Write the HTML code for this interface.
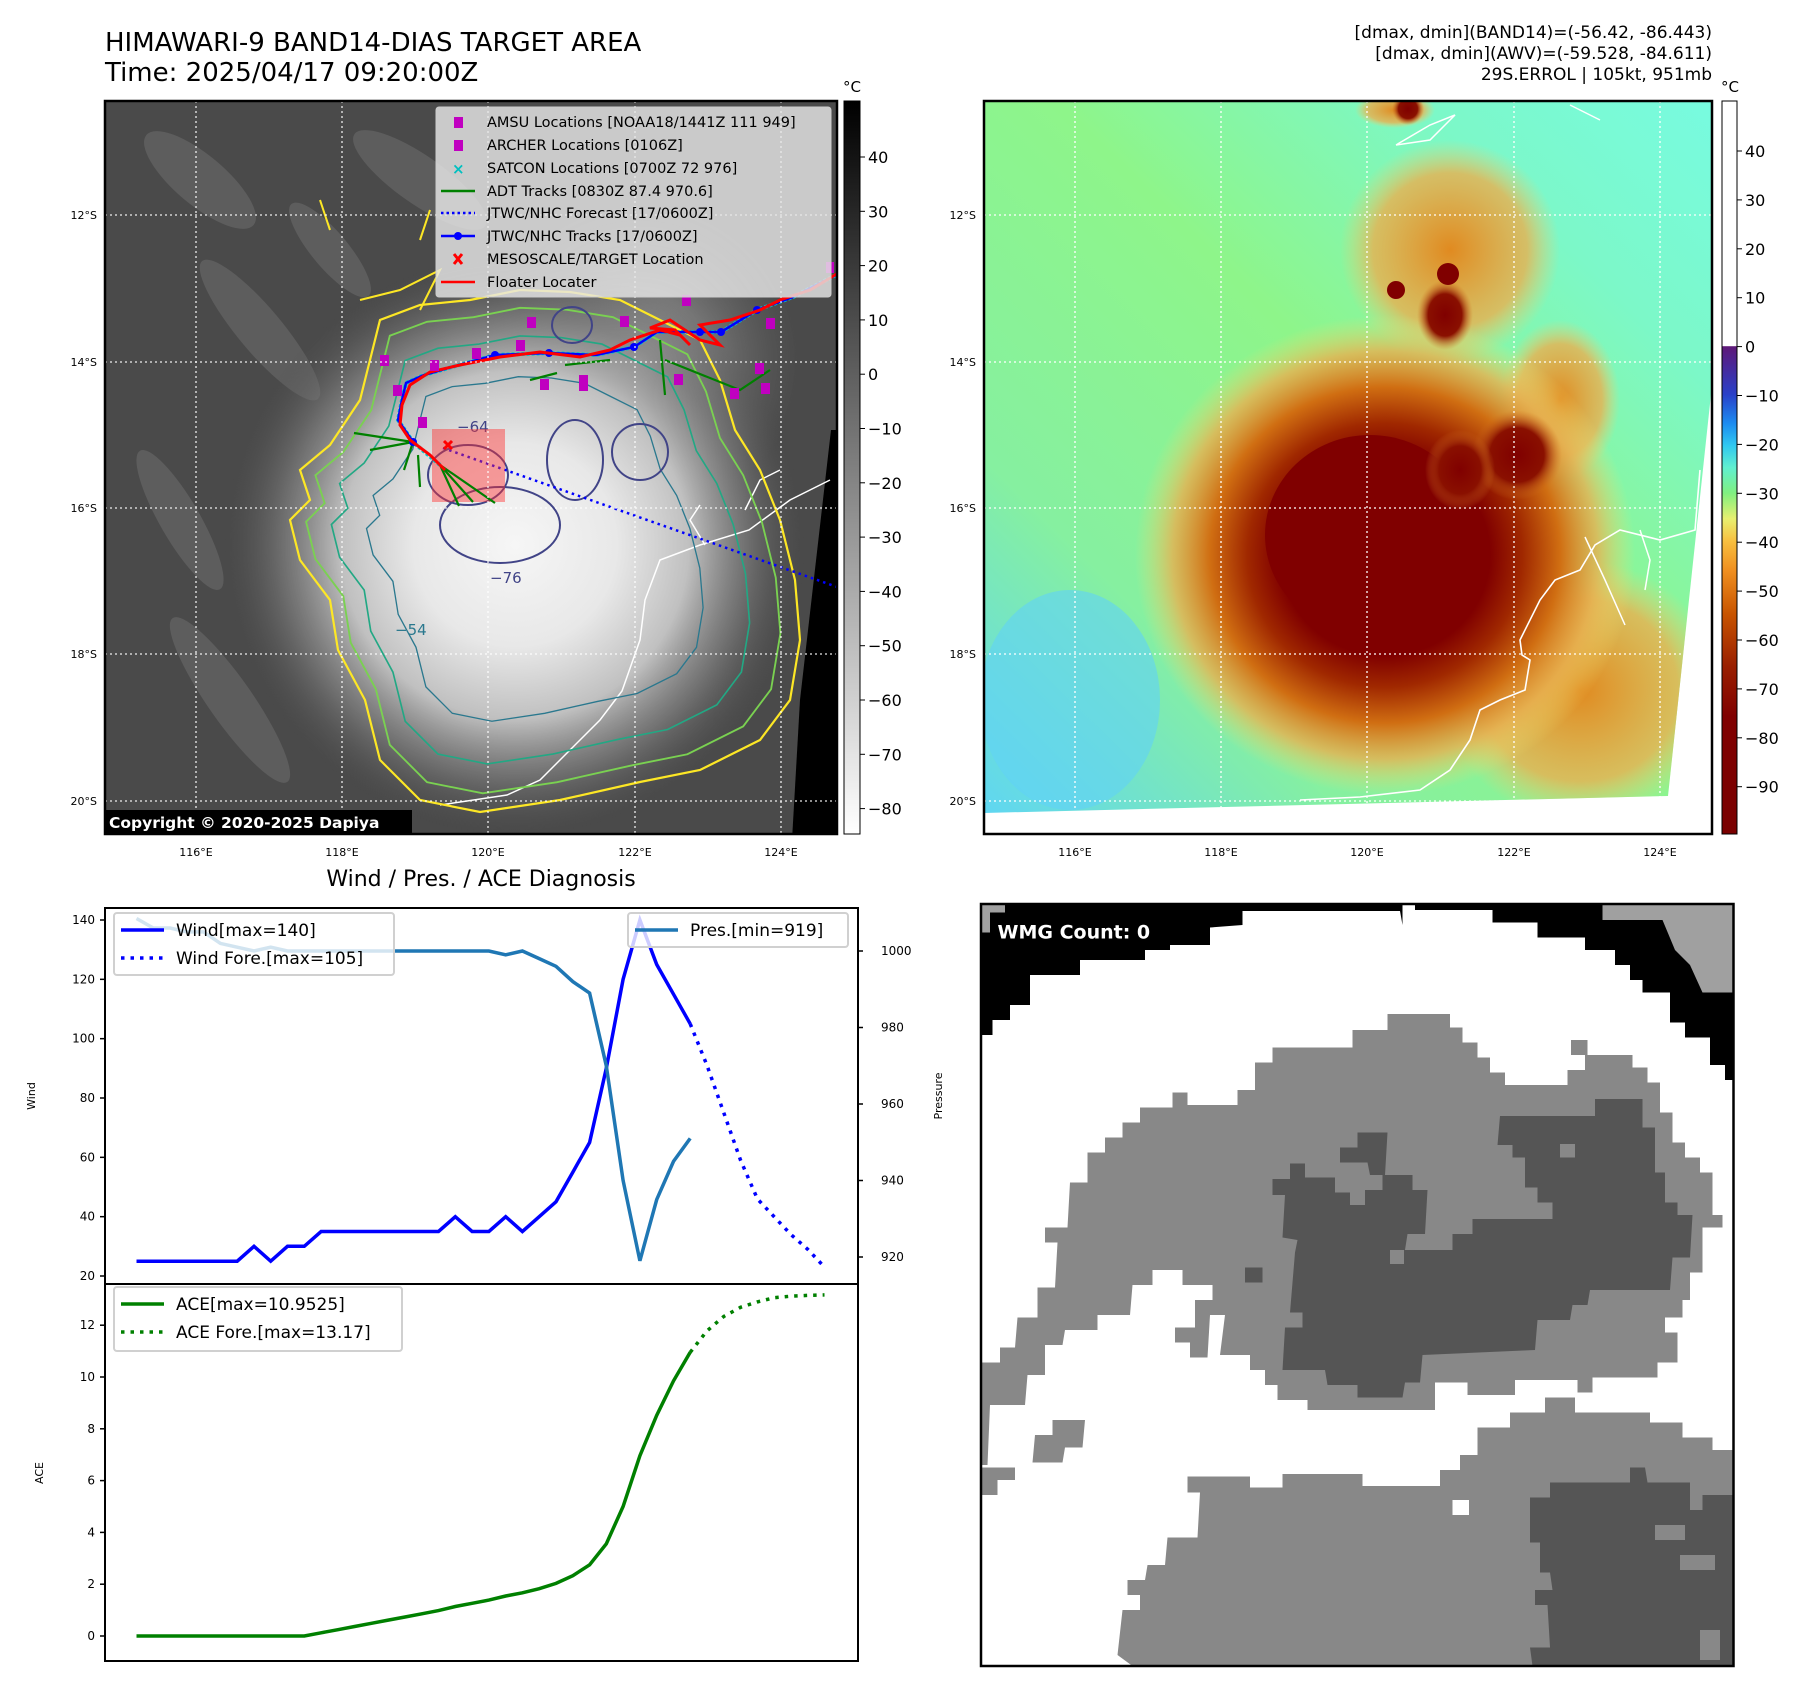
<!DOCTYPE html>
<html><head><meta charset="utf-8"><style>
html,body{margin:0;padding:0;background:#fff;}
svg{display:block;font-family:"DejaVu Sans","Liberation Sans",sans-serif;}
</style></head><body>
<svg id="page" width="1797" height="1690" viewBox="0 0 1797 1690" xmlns="http://www.w3.org/2000/svg">
<defs>
<clipPath id="clipL"><rect x="105" y="101" width="732" height="733"/></clipPath>
<clipPath id="clipR"><rect x="984" y="101" width="728" height="733"/></clipPath>
<radialGradient id="cloudL" gradientUnits="userSpaceOnUse" cx="515" cy="545" r="290">
<stop offset="0" stop-color="#f6f6f6"/><stop offset="0.35" stop-color="#e8e8e8"/><stop offset="0.6" stop-color="#c0c0c0"/><stop offset="0.8" stop-color="#808080" stop-opacity="0.7"/><stop offset="1" stop-color="#555" stop-opacity="0"/>
</radialGradient>
<radialGradient id="cloudL2" gradientUnits="userSpaceOnUse" cx="640" cy="360" r="160">
<stop offset="0" stop-color="#b0b0b0"/><stop offset="1" stop-color="#777" stop-opacity="0"/>
</radialGradient>
<linearGradient id="bgR" x1="0" y1="1" x2="1" y2="0">
<stop offset="0" stop-color="#5fd6f2"/><stop offset="0.25" stop-color="#86f0a0"/><stop offset="0.55" stop-color="#8ef58a"/><stop offset="0.8" stop-color="#7cf8c8"/><stop offset="1" stop-color="#78fbe0"/>
</linearGradient>
<radialGradient id="stormR" cx="0.5" cy="0.5" r="0.5">
<stop offset="0" stop-color="#800000"/><stop offset="0.42" stop-color="#800000"/><stop offset="0.55" stop-color="#a02800"/><stop offset="0.7" stop-color="#d06e12"/><stop offset="0.85" stop-color="#e8b050" stop-opacity="0.8"/><stop offset="1" stop-color="#f0e070" stop-opacity="0"/>
</radialGradient>
<radialGradient id="blobR" cx="0.5" cy="0.5" r="0.5">
<stop offset="0" stop-color="#800000"/><stop offset="0.6" stop-color="#8a1000"/><stop offset="1" stop-color="#d07020" stop-opacity="0"/>
</radialGradient>
<radialGradient id="orangeR" cx="0.5" cy="0.5" r="0.5">
<stop offset="0" stop-color="#e08a20"/><stop offset="0.7" stop-color="#eab050" stop-opacity="0.8"/><stop offset="1" stop-color="#f0d070" stop-opacity="0"/>
</radialGradient>
<linearGradient id="cbL" x1="0" y1="0" x2="0" y2="1">
<stop offset="0" stop-color="#000"/><stop offset="1" stop-color="#fff"/>
</linearGradient>
<linearGradient id="cbR" x1="0" y1="0" x2="0" y2="1">
<stop offset="0" stop-color="#fff"/><stop offset="0.334" stop-color="#fff"/><stop offset="0.335" stop-color="#5e1878"/><stop offset="0.40" stop-color="#2a40c8"/><stop offset="0.44" stop-color="#1c8cf0"/><stop offset="0.47" stop-color="#30c8f0"/><stop offset="0.50" stop-color="#60f0d0"/><stop offset="0.535" stop-color="#80f080"/><stop offset="0.57" stop-color="#e8f070"/><stop offset="0.60" stop-color="#f8c040"/><stop offset="0.64" stop-color="#f09020"/><stop offset="0.70" stop-color="#c85400"/><stop offset="0.77" stop-color="#9a2000"/><stop offset="0.84" stop-color="#800000"/><stop offset="1" stop-color="#7a0000"/>
</linearGradient>
<path id="contourBase" d="M330,445 L300,470 L310,500 L290,520 L300,560 L330,600 L338,650 L365,700 L380,760 L420,800 L480,812 L560,800 L640,782 L700,770 L760,740 L790,700 L800,640 L795,580 L780,520 L760,470 L735,430 L720,380 L700,340 L660,320 L620,300 L570,292 L520,290 L470,300 L420,305 L380,320 L370,360 L360,400 Z"/>
</defs>

<text x="105" y="51" font-size="26">HIMAWARI-9 BAND14-DIAS TARGET AREA</text>
<text x="105" y="81" font-size="26">Time: 2025/04/17 09:20:00Z</text>
<g font-size="17" text-anchor="end">
<text x="1712" y="38">[dmax, dmin](BAND14)=(-56.42, -86.443)</text>
<text x="1712" y="59">[dmax, dmin](AWV)=(-59.528, -84.611)</text>
<text x="1712" y="80">29S.ERROL | 105kt, 951mb</text>
</g>

<!-- LEFT MAP -->
<g clip-path="url(#clipL)">
<rect x="105" y="101" width="732" height="733" fill="#4a4a4a"/>
<g opacity="0.3" fill="#8a8a8a">
<ellipse cx="200" cy="180" rx="70" ry="25" transform="rotate(40 200 180)"/>
<ellipse cx="260" cy="330" rx="90" ry="22" transform="rotate(50 260 330)"/>
<ellipse cx="180" cy="520" rx="80" ry="20" transform="rotate(60 180 520)"/>
<ellipse cx="230" cy="700" rx="100" ry="22" transform="rotate(55 230 700)"/>
<ellipse cx="420" cy="180" rx="80" ry="24" transform="rotate(35 420 180)"/>
<ellipse cx="330" cy="250" rx="60" ry="18" transform="rotate(50 330 250)"/>
</g>
<rect x="105" y="101" width="732" height="733" fill="url(#cloudL2)"/>
<rect x="105" y="101" width="732" height="733" fill="url(#cloudL)"/>
<polygon points="831,430 840,430 840,840 792,840 800,700" fill="#000"/>
<path d="M830,480 L790,500 L749,530 L700,545 L660,560 L645,600 L640,640 L622,691 L600,720 L580,740 L540,780 L507,795 L440,805" fill="none" stroke="#fff" stroke-width="1.5"/>
<path d="M705,545 L690,520 L700,505 M745,510 L760,480 L780,470" fill="none" stroke="#fff" stroke-width="1.5"/>
<g fill="none" vector-effect="non-scaling-stroke">
<use href="#contourBase" stroke="#fde725" stroke-width="2.2"/>
<use href="#contourBase" stroke="#7ad151" stroke-width="2" transform="translate(520 545) scale(0.93) translate(-520 -545)"/>
<use href="#contourBase" stroke="#22a884" stroke-width="2" transform="translate(520 545) scale(0.82) translate(-520 -545)"/>
<use href="#contourBase" stroke="#2a788e" stroke-width="2" transform="translate(515 545) scale(0.66) translate(-515 -545)"/>
<ellipse cx="500" cy="525" rx="60" ry="38" stroke="#414487" stroke-width="2"/>
<ellipse cx="468" cy="475" rx="40" ry="30" stroke="#414487" stroke-width="2"/>
<ellipse cx="575" cy="460" rx="28" ry="40" stroke="#414487" stroke-width="2"/>
<ellipse cx="640" cy="452" rx="28" ry="28" stroke="#414487" stroke-width="2"/>
<ellipse cx="572" cy="325" rx="20" ry="18" stroke="#414487" stroke-width="2"/>
<path d="M360,300 L400,290 L440,270 L420,310 M320,200 L330,230 M420,240 L430,210" stroke="#fde725" stroke-width="2"/>
</g>
<g font-size="15">
<text x="457" y="432" fill="#414487">−64</text>
<text x="490" y="583" fill="#414487">−76</text>
<text x="395" y="635" fill="#2a788e">−54</text>
</g>
<path d="M443,448 L840,588" fill="none" stroke="#0000ff" stroke-width="2.5" stroke-dasharray="2.5,4"/>
<rect x="432" y="429" width="73" height="73" fill="#ff3030" opacity="0.45"/>
<g stroke="#008000" stroke-width="2.2" fill="none">
<path d="M413,442 L354,433 M413,442 L370,450 M413,442 L404,470 M418,455 L420,487 M440,465 L459,506 M440,465 L495,503 M440,465 L473,502 M557,373 L530,380 M565,365 L610,360 M660,340 L665,395 M665,360 L740,390 L770,370"/>
</g>
<path d="M440,465 L413,442 L398,420 L402,400 L406,383 L424,375 L452,367 L495,355 L549,353 L596,355 L634,347 L657,332 L700,332 L721,332 L757,310 L793,297 L840,273" fill="none" stroke="#00c8c8" stroke-width="4" stroke-dasharray="3,2"/>
<path d="M413,442 L398,420 L402,400 L406,383 L424,375 L452,367 L495,355 L549,353 L596,355 L634,347 L657,332 L700,332 L721,332 L757,310 L793,297 L840,273" fill="none" stroke="#0000ff" stroke-width="2.5"/>
<g fill="#0000ff"><circle cx="413" cy="442" r="4"/><circle cx="495" cy="355" r="4"/><circle cx="549" cy="353" r="4"/><circle cx="634" cy="347" r="4"/><circle cx="700" cy="332" r="4"/><circle cx="721" cy="332" r="4"/><circle cx="757" cy="310" r="4"/></g>
<path d="M445,470 L430,455 L410,440 L400,425 L402,405 L410,385 L430,372 L460,365 L500,357 L540,352 L580,357 L610,350 L630,340 L660,330 L680,335 L690,345 L675,330 L650,328 L670,320 L700,340 L720,345 L700,325 L730,320 L760,310 L780,300 L810,290 L840,272" fill="none" stroke="#ff0000" stroke-width="3"/>
<path d="M444,441 L452,449 M452,441 L444,449" stroke="#ff0000" stroke-width="3"/>
<g fill="#c000c0">
<rect x="380" y="355" width="9" height="11"/><rect x="393" y="385" width="9" height="11"/><rect x="418" y="417" width="9" height="11"/><rect x="430" y="360" width="9" height="11"/><rect x="472" y="348" width="9" height="11"/><rect x="527" y="317" width="9" height="11"/><rect x="516" y="340" width="9" height="11"/><rect x="540" y="379" width="9" height="11"/><rect x="579" y="375" width="9" height="16"/><rect x="620" y="316" width="9" height="11"/><rect x="674" y="374" width="9" height="11"/><rect x="730" y="388" width="9" height="11"/><rect x="755" y="363" width="9" height="11"/><rect x="761" y="383" width="9" height="11"/><rect x="766" y="318" width="9" height="11"/><rect x="682" y="295" width="9" height="11"/><rect x="826" y="262" width="8" height="11"/>
</g>
<g stroke="#fff" stroke-width="1.3" stroke-dasharray="2,3" opacity="0.9">
<line x1="196" y1="101" x2="196" y2="834"/><line x1="342" y1="101" x2="342" y2="834"/><line x1="488" y1="101" x2="488" y2="834"/><line x1="635" y1="101" x2="635" y2="834"/><line x1="781" y1="101" x2="781" y2="834"/>
<line x1="105" y1="215" x2="837" y2="215"/><line x1="105" y1="362" x2="837" y2="362"/><line x1="105" y1="508" x2="837" y2="508"/><line x1="105" y1="654" x2="837" y2="654"/><line x1="105" y1="801" x2="837" y2="801"/>
</g>
<g>
<rect x="436" y="107" width="395" height="190" rx="3" fill="#e6e6e6" fill-opacity="0.82" stroke="#ccc"/>
<g font-size="14.5" fill="#000">
<rect x="454" y="117" width="9" height="11" fill="#c000c0"/><text x="487" y="127">AMSU Locations [NOAA18/1441Z 111 949]</text>
<rect x="454" y="140" width="9" height="11" fill="#c000c0"/><text x="487" y="150">ARCHER Locations [0106Z]</text>
<text x="452" y="174" fill="#00c0c0" font-size="15" font-weight="bold">×</text><text x="487" y="173">SATCON Locations [0700Z 72 976]</text>
<line x1="441" y1="191" x2="475" y2="191" stroke="#008000" stroke-width="2.5"/><text x="487" y="196">ADT Tracks [0830Z 87.4 970.6]</text>
<line x1="441" y1="213" x2="475" y2="213" stroke="#0000ff" stroke-width="2.5" stroke-dasharray="2.5,3"/><text x="487" y="218">JTWC/NHC Forecast [17/0600Z]</text>
<line x1="441" y1="236" x2="475" y2="236" stroke="#0000ff" stroke-width="2.5"/><circle cx="458" cy="236" r="4" fill="#0000ff"/><text x="487" y="241">JTWC/NHC Tracks [17/0600Z]</text>
<path d="M454,254 L462,264 M462,254 L454,264" stroke="#ff0000" stroke-width="3"/><text x="487" y="264">MESOSCALE/TARGET Location</text>
<line x1="441" y1="282" x2="475" y2="282" stroke="#ff0000" stroke-width="2.5"/><text x="487" y="287">Floater Locater</text>
</g>
</g>
<rect x="105" y="810" width="307" height="24" fill="#000"/>
<text x="109" y="828" fill="#fff" font-size="15.5" font-weight="bold">Copyright © 2020-2025 Dapiya</text>
</g>
<rect x="105" y="101" width="732" height="733" fill="none" stroke="#000" stroke-width="2.5"/>
<g font-size="11" text-anchor="end">
<text x="97" y="219">12°S</text><text x="97" y="366">14°S</text><text x="97" y="512">16°S</text><text x="97" y="658">18°S</text><text x="97" y="805">20°S</text>
</g>
<g font-size="11" text-anchor="middle">
<text x="196" y="856">116°E</text><text x="342" y="856">118°E</text><text x="488" y="856">120°E</text><text x="635" y="856">122°E</text><text x="781" y="856">124°E</text>
</g>
<g>
<rect x="844" y="101" width="16" height="733" fill="url(#cbL)" stroke="#000" stroke-width="1"/>
<text x="852" y="92" font-size="15" text-anchor="middle">°C</text>
<g font-size="16" id="cbLticks"></g>
</g>

<!-- RIGHT MAP -->
<g clip-path="url(#clipR)">
<rect x="984" y="101" width="728" height="733" fill="#fff"/>
<polygon points="984,101 1712,101 1712,385 1668,796 984,813" fill="url(#bgR)"/>
<clipPath id="imgR"><polygon points="984,101 1712,101 1712,385 1668,796 984,813"/></clipPath>
<g clip-path="url(#imgR)">
<ellipse cx="1070" cy="700" rx="90" ry="110" fill="#60d2f6" opacity="0.6"/>
<ellipse cx="1580" cy="690" rx="140" ry="130" fill="url(#orangeR)"/>
<ellipse cx="1450" cy="250" rx="110" ry="110" fill="url(#orangeR)"/>
<ellipse cx="1560" cy="400" rx="60" ry="80" fill="url(#orangeR)"/>
<ellipse cx="1395" cy="110" rx="40" ry="18" fill="url(#orangeR)"/>
<ellipse cx="1385" cy="555" rx="250" ry="240" fill="url(#stormR)"/>
<ellipse cx="1370" cy="535" rx="105" ry="100" fill="#800000"/>
<ellipse cx="1445" cy="315" rx="28" ry="35" fill="url(#blobR)"/>
<ellipse cx="1517" cy="455" rx="45" ry="45" fill="url(#blobR)"/>
<ellipse cx="1460" cy="470" rx="35" ry="40" fill="url(#blobR)"/>
<circle cx="1448" cy="274" r="11" fill="#800000"/>
<circle cx="1396" cy="290" r="9" fill="#800000"/>
<circle cx="1408" cy="109" r="16" fill="url(#blobR)"/>
</g>
<path d="M1700,470 L1695,530 L1660,540 L1620,530 L1595,545 L1580,570 L1555,580 L1540,600 L1520,640 L1522,655 L1530,660 L1525,690 L1500,700 L1480,710 L1470,740 L1450,770 L1420,790 L1360,797 L1300,800" fill="none" stroke="#fff" stroke-width="1.6"/>
<path d="M1585,537 L1605,580 L1625,625 M1640,530 L1650,560 L1645,590 M1396,145 L1430,125 L1455,115 L1430,140 L1396,145 M1570,105 L1600,120" fill="none" stroke="#fff" stroke-width="1.5"/>
<g stroke="#fff" stroke-width="1.3" stroke-dasharray="2,3">
<line x1="1075" y1="101" x2="1075" y2="834"/><line x1="1221" y1="101" x2="1221" y2="834"/><line x1="1367" y1="101" x2="1367" y2="834"/><line x1="1514" y1="101" x2="1514" y2="834"/><line x1="1660" y1="101" x2="1660" y2="834"/>
<line x1="984" y1="215" x2="1712" y2="215"/><line x1="984" y1="362" x2="1712" y2="362"/><line x1="984" y1="508" x2="1712" y2="508"/><line x1="984" y1="654" x2="1712" y2="654"/><line x1="984" y1="801" x2="1712" y2="801"/>
</g>
</g>
<rect x="984" y="101" width="728" height="733" fill="none" stroke="#000" stroke-width="2.5"/>
<g font-size="11" text-anchor="end">
<text x="976" y="219">12°S</text><text x="976" y="366">14°S</text><text x="976" y="512">16°S</text><text x="976" y="658">18°S</text><text x="976" y="805">20°S</text>
</g>
<g font-size="11" text-anchor="middle">
<text x="1075" y="856">116°E</text><text x="1221" y="856">118°E</text><text x="1367" y="856">120°E</text><text x="1514" y="856">122°E</text><text x="1660" y="856">124°E</text>
</g>
<g>
<rect x="1722" y="101" width="15" height="733" fill="url(#cbR)" stroke="#000" stroke-width="1"/>
<text x="1730" y="92" font-size="15" text-anchor="middle">°C</text>
<g font-size="16" id="cbRticks"></g>
</g>

<text x="481" y="886" font-size="22" text-anchor="middle">Wind / Pres. / ACE Diagnosis</text>
<g id="chart"></g>

<!-- WMG PANEL -->
<g transform="translate(980 900) scale(0.5)">
<rect x="2" y="8" width="1505" height="1524" fill="#fff"/>
<polygon fill="#000" points="0,8 845,8 845,50 840,22 525,22 525,50 460,55 460,90 380,90 380,100 330,100 330,120 200,120 200,150 100,150 100,210 60,210 60,240 25,240 25,270 2,270"/>
<polygon fill="#000" points="870,8 1507,8 1507,360 1490,360 1490,330 1460,330 1460,275 1410,275 1410,245 1380,245 1380,185 1325,185 1325,160 1300,160 1300,130 1270,130 1270,100 1210,100 1210,75 1115,75 1115,45 1025,45 1025,20 870,20"/>
<polygon fill="#a0a0a0" points="1245,10 1507,10 1507,185 1445,185 1420,130 1390,100 1365,40 1245,40"/>
<polygon fill="#a0a0a0" points="2,8 50,8 50,25 20,25 20,65 2,65"/>
<polygon fill="#888" points="0,925 40,925 40,895 70,895 75,835 115,835 115,775 150,775 155,685 130,685 130,655 175,655 180,565 215,565 215,505 250,505 250,475 285,475 285,445 320,445 320,415 385,415 385,385 415,385 415,410 515,410 515,380 550,380 550,325 585,325 585,295 745,295 745,260 815,260 815,228 940,228 940,255 965,255 965,285 995,285 995,315 1020,315 1020,345 1050,345 1050,370 1175,370 1175,340 1210,340 1210,310 1305,310 1305,335 1335,335 1335,365 1360,365 1360,425 1385,425 1385,485 1410,485 1410,515 1440,515 1440,545 1465,545 1465,630 1485,630 1485,655 1445,655 1445,745 1420,745 1420,800 1405,800 1405,835 1370,835 1370,865 1395,865 1395,925 1355,925 1355,955 1225,955 1225,985 1195,985 1195,960 1070,960 1070,990 975,990 975,965 910,965 910,1020 655,1020 655,1000 595,1000 595,970 570,970 570,940 540,940 540,910 480,910 490,830 460,830 455,915 420,915 420,885 390,885 390,855 430,855 430,800 465,800 465,770 405,770 405,740 345,740 345,770 305,770 300,830 235,830 235,860 170,860 165,890 130,890 130,950 95,950 90,1010 20,1010 15,1130 2,1130"/>
<polygon fill="#888" points="110,1070 145,1070 145,1040 210,1040 205,1095 170,1095 165,1125 105,1125"/>
<polygon fill="#888" points="2,1135 70,1135 70,1160 35,1160 35,1190 2,1190"/>
<rect x="1182" y="280" width="33" height="30" fill="#888"/>
<polygon fill="#555" points="585,558 620,558 620,527 650,527 650,555 710,555 710,585 740,585 740,610 770,610 770,580 805,580 805,550 865,550 865,580 895,580 890,668 855,668 850,700 945,700 945,668 985,668 985,638 1145,638 1145,605 1115,605 1115,575 1090,575 1090,515 1065,515 1065,490 1035,490 1040,432 1230,432 1230,398 1325,398 1325,455 1350,455 1350,545 1370,545 1370,605 1395,605 1395,630 1425,630 1420,715 1385,715 1380,780 1220,780 1215,810 1185,810 1180,840 1115,840 1110,900 885,910 880,965 850,965 845,995 755,995 755,970 695,970 690,940 605,940 610,855 645,855 645,825 620,825 630,705 635,680 605,675 610,590 585,590"/>
<polygon fill="#555" points="720,495 755,495 755,465 815,465 810,550 780,550 775,525 720,525"/>
<rect x="1160" y="488" width="30" height="27" fill="#888"/>
<rect x="820" y="700" width="28" height="28" fill="#888"/>
<rect x="530" y="735" width="35" height="30" fill="#555"/>
<polygon fill="#888" points="415,1153 540,1153 540,1175 605,1175 605,1148 765,1148 765,1172 920,1172 920,1140 960,1140 960,1110 995,1110 995,1055 1060,1055 1060,1025 1130,1025 1130,995 1190,995 1190,1025 1340,1025 1340,1045 1405,1045 1405,1075 1465,1075 1465,1100 1507,1100 1507,1532 305,1532 275,1510 285,1420 320,1420 320,1390 295,1390 295,1360 330,1360 335,1330 370,1330 375,1275 435,1275 440,1185 415,1185"/>
<rect x="945" y="1200" width="33" height="30" fill="#fff"/>
<polygon fill="#555" points="1100,1195 1140,1195 1140,1165 1300,1165 1300,1135 1330,1135 1335,1165 1420,1165 1420,1220 1445,1220 1445,1190 1507,1190 1507,1532 1105,1532 1100,1495 1140,1495 1135,1410 1110,1410 1110,1380 1145,1380 1140,1345 1120,1345 1120,1285 1100,1285"/>
<rect x="1350" y="1250" width="60" height="30" fill="#888"/>
<rect x="1400" y="1310" width="70" height="30" fill="#888"/>
<rect x="1440" y="1460" width="40" height="60" fill="#888"/>
<text x="35" y="77" fill="#fff" font-size="38" font-weight="bold">WMG Count: 0</text>
<rect x="2" y="8" width="1505" height="1524" fill="none" stroke="#000" stroke-width="5"/>
</g>

<script>
const windObs = [25,25,25,25,25,25,25,30,25,30,30,35,35,35,35,35,35,35,35,40,35,35,40,35,40,45,55,65,90,120,140,125,115,105];
const windFore = [105,91,75,59,46,40,34,29,23];
const presObs = [1008.5,1006,1006,1005,1005,1002,1001,1000,1001,1000,1000,1000,1000,1000,1000,1000,1000,1000,1000,1000,1000,1000,999,1000,998,996,992,989,970,940,919,935,945,951];
const aceObs = [0,0,0,0,0,0,0,0,0,0,0,0.1225,0.245,0.3675,0.49,0.6125,0.735,0.8575,0.98,1.14,1.2625,1.385,1.545,1.6675,1.8275,2.03,2.33,2.75,3.56,5.0,6.96,8.52,9.85,10.9525];
const aceFore = [10.9525,11.78,12.34,12.69,12.90,13.06,13.12,13.15,13.17];
const windTicks = [20,40,60,80,100,120,140];
const presTicks = [920,940,960,980,1000];
const aceTicks = [0,2,4,6,8,10,12];
const cbLTicks = [40,30,20,10,0,-10,-20,-30,-40,-50,-60,-70,-80];
const cbRTicks = [40,30,20,10,0,-10,-20,-30,-40,-50,-60,-70,-80,-90];

const NS = 'http://www.w3.org/2000/svg';
const X0 = 105, X1 = 858, YT = 908, YM = 1284, YB = 1661;
const foreStart = windObs.length - 1;
function xs(i){ return 136.5 + i * 16.78; }
function yW(v){ return 920 + (140 - v) * 2.9667; }
function yP(p){ return 951 + (1000 - p) * 3.825; }
function yA(a){ return 1636 - a * 25.9; }
function yCL(v){ return 157 + (40 - v) * 5.43; }
function yCR(v){ return 151 + (40 - v) * 4.89; }

function mk(tag, attrs, parent){
  const e = document.createElementNS(NS, tag);
  for (const k in attrs) e.setAttribute(k, attrs[k]);
  parent.appendChild(e);
  return e;
}
function pts(arr, off, yf){ return arr.map((v,i)=> xs(i+off).toFixed(1)+','+yf(v).toFixed(1)).join(' '); }

const chart = document.getElementById('chart');

const cbl = document.getElementById('cbLticks');
cbLTicks.forEach(v=>{
  const y = yCL(v);
  const l = mk('line',{x1:860,x2:865,y1:y,y2:y,stroke:'#000','stroke-width':1},cbl);
  
  
  const t = mk('text',{x:868,y:y+6},cbl);
  
  
  t.textContent = v < 0 ? '\u2212' + (-v) : String(v);
});
const cbr = document.getElementById('cbRticks');
cbRTicks.forEach(v=>{
  const y = yCR(v);
  const l = mk('line',{x1:1737,x2:1742,y1:y,y2:y,stroke:'#000','stroke-width':1},cbr);
  
  
  const t = mk('text',{x:1745,y:y+6},cbr);
  
  
  t.textContent = v < 0 ? '\u2212' + (-v) : String(v);
});

const boxW = mk('rect',{x:X0,y:YT,width:X1-X0,height:YM-YT,fill:'none',stroke:'#000','stroke-width':2},chart);


const boxA = mk('rect',{x:X0,y:YM,width:X1-X0,height:YB-YM,fill:'none',stroke:'#000','stroke-width':2},chart);



windTicks.forEach(v=>{
  const y = yW(v);
  const l = mk('line',{x1:X0-5,x2:X0,y1:y,y2:y,stroke:'#000','stroke-width':1.5},chart);
  
  
  const t = mk('text',{x:X0-10,y:y+4,'font-size':12,'text-anchor':'end'},chart);
  
  
  t.textContent = v;
});
presTicks.forEach(v=>{
  const y = yP(v);
  const l = mk('line',{x1:X1,x2:X1+5,y1:y,y2:y,stroke:'#000','stroke-width':1.5},chart);
  
  
  const t = mk('text',{x:X1+23,y:y+4,'font-size':12},chart);
  
  
  t.textContent = v;
});
aceTicks.forEach(v=>{
  const y = yA(v);
  const l = mk('line',{x1:X0-5,x2:X0,y1:y,y2:y,stroke:'#000','stroke-width':1.5},chart);
  
  
  const t = mk('text',{x:X0-10,y:y+4,'font-size':12,'text-anchor':'end'},chart);
  
  
  t.textContent = v;
});
const tw = mk('text',{x:0,y:0,'font-size':11,'text-anchor':'middle',transform:'translate(35 1096) rotate(-90)'},chart);


tw.textContent = 'Wind';
const tp = mk('text',{x:0,y:0,'font-size':11,'text-anchor':'middle',transform:'translate(942 1096) rotate(-90)'},chart);


tp.textContent = 'Pressure';
const ta = mk('text',{x:0,y:0,'font-size':11,'text-anchor':'middle',transform:'translate(43 1473) rotate(-90)'},chart);


ta.textContent = 'ACE';

const wl = mk('polyline',{points:pts(windObs,0,yW),fill:'none',stroke:'#0000ff','stroke-width':3.5},chart);


const wf = mk('polyline',{points:pts(windFore,foreStart,yW),fill:'none',stroke:'#0000ff','stroke-width':3.5,'stroke-dasharray':'3.5,6'},chart);


const pl = mk('polyline',{points:pts(presObs,0,yP),fill:'none',stroke:'#1f77b4','stroke-width':3.5},chart);


const al = mk('polyline',{points:pts(aceObs,0,yA),fill:'none',stroke:'#008000','stroke-width':3.5},chart);


const af = mk('polyline',{points:pts(aceFore,foreStart,yA),fill:'none',stroke:'#008000','stroke-width':3.5,'stroke-dasharray':'3.5,6'},chart);



function legend(name, x, y, w, h, rows){
  const g = mk('g',{},chart);
  
  
  mk('rect',{x:x,y:y,width:w,height:h,rx:3,fill:'#fff','fill-opacity':0.8,stroke:'#d0d0d0','stroke-width':2},g);
  rows.forEach((r,i)=>{
    const yy = y + 17 + i*28;
    const ln = mk('line',{x1:x+7,x2:x+50,y1:yy,y2:yy,stroke:r[1],'stroke-width':3.5},g);
    if (r[2]) ln.setAttribute('stroke-dasharray','3.5,6');
    const t = mk('text',{x:x+62,y:yy+6,'font-size':17},g);
    t.textContent = r[0];
  });
}
legend('wind-legend',114,913,280,62,[['Wind[max=140]','#0000ff',false],['Wind Fore.[max=105]','#0000ff',true]]);
legend('pressure-legend',628,913,220,34,[['Pres.[min=919]','#1f77b4',false]]);
legend('ace-legend',114,1287,288,64,[['ACE[max=10.9525]','#008000',false],['ACE Fore.[max=13.17]','#008000',true]]);
</script>
</svg>
</body></html>
